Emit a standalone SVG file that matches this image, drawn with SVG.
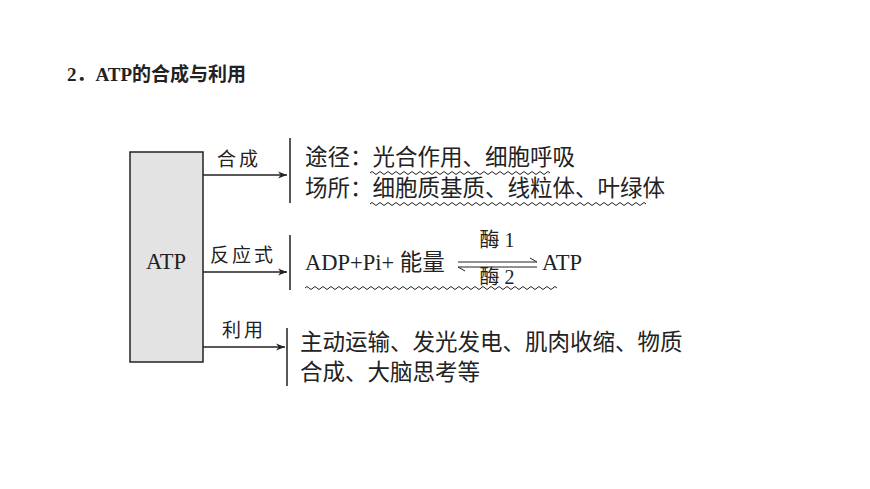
<svg xmlns="http://www.w3.org/2000/svg" width="870" height="489" viewBox="0 0 870 489">
<style>
.t{font-family:"Liberation Serif","Noto Sans CJK SC",serif;fill:#222;font-size:22.5px}
.l{font-family:"Liberation Serif","Noto Sans CJK SC",serif;fill:#222;font-size:19px;letter-spacing:3px}
.e{font-family:"Liberation Serif","Noto Sans CJK SC",serif;fill:#222;font-size:20px}
.ln{stroke:#222;stroke-width:1.5;fill:none}
.w{stroke:#222;stroke-width:1;fill:none}
</style>
<defs><marker id="a" viewBox="0 0 10 10" refX="10" refY="5" markerWidth="9" markerHeight="9" markerUnits="userSpaceOnUse" orient="auto"><path d="M0 1L10 5L0 9L3 5Z" fill="#222"/></marker></defs>
<rect width="870" height="489" fill="#fff"/>
<text x="67" y="81" font-family="Liberation Serif,Noto Sans CJK SC,serif" font-weight="bold" font-size="19" fill="#222">2．ATP的合成与利用</text>
<g id="atp"><rect x="130" y="152" width="73" height="210" fill="#e3e3e3" stroke="#222" stroke-width="1.5"/><text class="t" x="166" y="269" text-anchor="middle" font-size="26">ATP</text></g>
<g id="connectors">
<path class="ln" d="M203 175H287" marker-end="url(#a)"/>
<path class="ln" d="M203 272H287" marker-end="url(#a)"/>
<path class="ln" d="M203 347H285" marker-end="url(#a)"/>
<path class="ln" d="M290 138V203M290 235V290M287 328V386"/>
</g>
<g id="synth"><text class="l" x="217" y="166">合成</text>
<text class="t" x="305" y="165">途径：光合作用、细胞呼吸</text>
<text class="t" x="305" y="196">场所：细胞质基质、线粒体、叶绿体</text>
<path class="w" d="M370 173q2 -3 4 0t4 0t4 0t4 0t4 0t4 0t4 0t4 0t4 0t4 0t4 0t4 0t4 0t4 0t4 0t4 0t4 0t4 0t4 0t4 0t4 0t4 0t4 0t4 0t4 0t4 0t4 0t4 0t4 0t4 0t4 0t4 0t4 0t4 0t4 0t4 0t4 0t4 0t4 0t4 0t4 0t4 0t4 0t4 0t4 0t4"/>
<path class="w" d="M370 204q2 -3 4 0t4 0t4 0t4 0t4 0t4 0t4 0t4 0t4 0t4 0t4 0t4 0t4 0t4 0t4 0t4 0t4 0t4 0t4 0t4 0t4 0t4 0t4 0t4 0t4 0t4 0t4 0t4 0t4 0t4 0t4 0t4 0t4 0t4 0t4 0t4 0t4 0t4 0t4 0t4 0t4 0t4 0t4 0t4 0t4 0t4 0t4 0t4 0t4 0t4 0t4 0t4 0t4 0t4 0t4 0t4 0t4 0t4 0t4 0t4 0t4 0t4 0t4 0t4 0t4 0t4 0t4 0t4 0t4 0t4"/>
</g>
<g id="reaction"><text class="l" x="210" y="262">反应式</text>
<text class="t" x="305" y="270">ADP+Pi+ 能量</text>
<text class="e" x="497" y="247" text-anchor="middle">酶 1</text>
<text class="e" x="497" y="284" text-anchor="middle">酶 2</text>
<path class="w" d="M458 262H537L530 258M537 267H458L465 271"/>
<text class="t" x="542" y="270">ATP</text>
<path class="w" d="M305 288q2 -3 4 0t4 0t4 0t4 0t4 0t4 0t4 0t4 0t4 0t4 0t4 0t4 0t4 0t4 0t4 0t4 0t4 0t4 0t4 0t4 0t4 0t4 0t4 0t4 0t4 0t4 0t4 0t4 0t4 0t4 0t4 0t4 0t4 0t4 0t4 0t4 0t4 0t4 0t4 0t4 0t4 0t4 0t4 0t4 0t4 0t4 0t4 0t4 0t4 0t4 0t4 0t4 0t4 0t4 0t4 0t4 0t4 0t4 0t4 0t4 0t4 0t4 0t4 0t4"/>
</g>
<g id="use"><text class="l" x="222" y="337">利用</text>
<text class="t" x="300" y="350">主动运输、发光发电、肌肉收缩、物质</text>
<text class="t" x="300" y="380">合成、大脑思考等</text></g>
</svg>
